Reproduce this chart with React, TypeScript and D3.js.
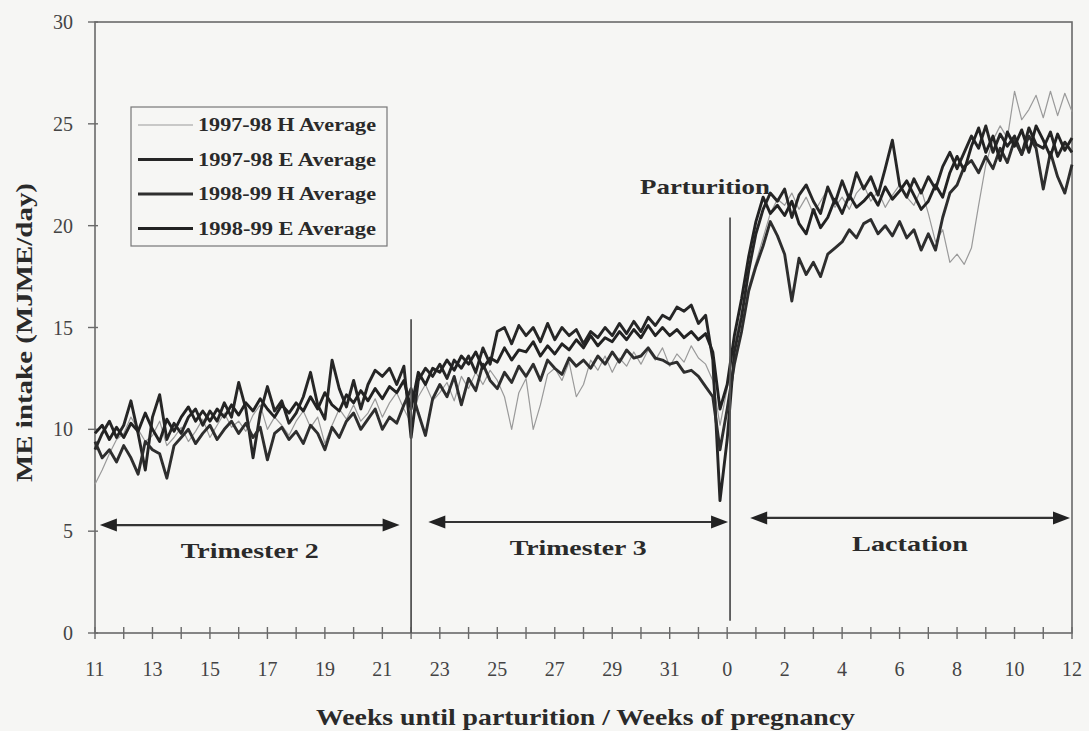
import React from "react";
import * as d3 from "d3";

// x positions: weeks on a continuous index (11..33 = weeks of pregnancy, 33 + n = lactation week n)
const STEP = 0.25;
const START = 11;

const h9798: number[] = [
  7.3, 8.0, 8.8, 9.5, 9.8, 10.6, 10.0, 9.4, 9.7, 10.4, 9.2, 9.6,
  10.1, 9.4, 9.9, 10.5, 9.6, 10.2, 10.8, 10.1, 10.4, 9.9, 10.7, 11.2,
  10.0, 10.6, 10.2, 9.7, 10.4, 10.9, 10.1, 10.6, 9.3, 10.2, 11.0, 10.5,
  11.2, 10.4, 10.8, 11.5, 10.6, 11.3, 11.8, 11.0, 10.3, 11.6, 12.2, 11.4,
  11.8, 12.3, 11.4, 12.6, 12.0, 12.8, 12.2, 12.9, 12.4, 11.6, 10.0, 11.8,
  12.5, 10.0, 11.2, 12.7, 13.0, 12.4, 13.3, 11.6, 12.2, 13.4, 12.9, 13.6,
  12.8, 13.5, 13.1, 13.8, 13.2, 13.9, 13.4, 14.0, 13.1, 13.7, 13.3, 14.1,
  13.5, 13.2, 12.4, 10.2, 12.0, 14.2, 15.8, 17.0, 18.2, 19.4, 20.6, 21.3,
  21.0, 21.6, 20.8, 21.4, 20.6, 21.2, 21.8, 20.9, 21.4, 20.8, 21.6, 22.0,
  21.2, 21.7, 20.9, 21.5, 22.0, 21.4, 21.0, 21.8, 20.6, 19.2, 19.8, 18.2,
  18.6, 18.1, 18.9, 21.0, 23.0, 24.2, 24.9, 24.3, 26.6, 25.2, 25.7, 26.4,
  25.3, 26.6, 25.4, 26.5, 25.6,
];

const e9798: number[] = [
  9.0, 9.8, 10.4, 9.6, 10.2, 11.4, 9.8, 8.0, 10.6, 11.7, 9.5, 10.3,
  9.8, 10.6, 11.0, 10.2, 10.9, 10.4, 11.3, 10.6, 12.3, 11.0, 8.6, 10.8,
  12.1, 10.9, 11.4, 10.3, 10.8, 11.6, 12.8, 11.2, 10.5, 13.4, 12.0, 11.1,
  12.4, 11.0, 12.2, 12.9, 12.6, 13.0, 12.2, 13.1, 9.6, 12.4, 13.0, 12.6,
  13.2, 12.5, 13.4, 13.0, 13.6, 12.8, 14.0, 13.2, 14.8, 15.0, 14.2, 15.1,
  14.6, 15.0, 14.3, 15.2, 14.4, 15.0, 14.6, 14.9, 14.2, 14.8, 14.5, 15.0,
  14.6, 15.2, 14.7, 15.3, 14.8, 15.5, 15.1, 15.6, 15.4, 16.0, 15.8, 16.1,
  15.2, 15.6, 13.4, 6.5, 9.5, 13.8, 15.5, 17.8, 19.6, 20.8, 21.6, 21.2,
  21.8, 20.4, 21.5, 22.0, 21.2, 20.6, 21.9, 21.1, 22.2, 21.3, 22.6, 21.8,
  22.4, 21.5, 22.8, 24.2, 22.0, 21.4, 22.3, 21.6, 22.4, 21.8, 22.9, 23.6,
  22.8, 23.6, 24.4, 23.8, 24.9, 23.6, 24.5, 23.9, 24.4, 23.5, 24.8, 24.0,
  23.8, 24.6, 23.4, 24.1, 23.6,
];

const h9899: number[] = [
  9.4, 8.6, 9.0, 8.4, 9.2, 8.6, 7.8, 9.4, 9.0, 8.8, 7.6, 9.2,
  9.6, 10.0, 9.3, 9.8, 10.2, 9.5, 10.0, 10.4, 9.8, 10.3, 9.6, 10.1,
  8.5, 9.8, 10.1, 9.5, 9.9, 9.3, 10.2, 9.8, 9.0, 10.1, 9.6, 10.4,
  10.8, 10.0, 10.5, 11.0, 10.0, 10.6, 10.3, 11.2, 12.0, 10.8, 9.7, 11.5,
  12.2, 11.6, 12.6, 11.2, 12.5, 11.9, 13.2, 12.4, 12.0, 12.8, 12.3, 13.1,
  12.6, 13.2, 12.4, 13.4, 13.0, 12.7, 13.5, 13.1, 13.4, 13.0, 13.6, 13.2,
  13.8, 13.3, 13.9, 13.5, 13.6, 14.0, 13.5, 13.4, 13.2, 13.3, 12.8, 12.9,
  12.6, 12.1, 11.6, 9.0, 11.0, 13.2, 14.8, 16.8, 18.0, 19.0, 20.2, 19.5,
  18.6, 16.3, 18.4, 17.6, 18.2, 17.5, 18.6, 18.9, 19.2, 19.8, 19.4, 20.1,
  20.3, 19.6, 20.0, 19.5, 20.2, 19.4, 19.8, 18.8, 19.6, 18.8, 20.4, 21.6,
  22.0, 22.9, 23.2, 22.6, 23.4, 22.8, 23.8, 23.1, 24.2, 23.5, 24.4, 23.8,
  21.8, 23.6, 22.4, 21.6, 23.0,
];

const e9899: number[] = [
  9.8, 10.2, 9.5, 10.1, 9.6, 10.3, 9.9, 10.8, 10.0, 9.4, 10.5, 9.9,
  10.6, 11.1, 10.4, 10.9, 10.4, 11.0, 10.6, 11.2, 10.7, 11.3, 10.9, 11.5,
  11.0, 10.6, 11.2, 10.8, 11.3, 10.9, 11.6, 11.0, 11.8, 11.2, 10.9, 11.7,
  11.3, 11.9, 11.4, 12.0, 11.5, 12.1, 11.8, 12.4, 11.0, 12.8, 12.2, 13.0,
  12.8, 13.4, 12.9, 13.6, 13.2, 13.8, 13.0, 13.5, 13.3, 14.0, 13.4, 13.9,
  13.8, 14.3, 13.6, 14.1, 13.7, 14.2, 13.9, 14.4, 14.0, 14.6, 14.1, 14.5,
  14.3, 14.8, 14.4, 14.9, 14.5, 15.1, 14.6, 15.0, 14.6, 14.9, 14.5, 14.8,
  14.4, 14.7, 13.8, 11.0, 12.2, 14.6, 16.4, 18.5, 20.2, 21.4, 20.6, 21.0,
  20.5, 21.2, 20.1, 19.6, 20.8, 19.9, 20.4, 21.3, 20.6, 21.5, 20.9, 21.2,
  21.6, 21.0, 21.9, 21.3, 21.7, 22.2, 21.5, 20.8, 21.2, 22.0, 21.4, 22.6,
  23.4, 22.7, 23.9, 24.8, 23.6, 24.4, 23.2, 24.6, 23.9, 24.7, 23.6, 24.9,
  24.2, 23.4, 24.5, 23.7, 24.3,
];

const seriesNames = [
  "1997-98 H Average",
  "1997-98 E Average",
  "1998-99 H Average",
  "1998-99 E Average",
];
const seriesData = [h9798, e9798, h9899, e9899];
const seriesColors = ["#9a9a9a", "#262626", "#2e2e2e", "#222222"];
const seriesWidths = [1.2, 2.9, 2.9, 2.9];

const xTickValues = [11, 13, 15, 17, 19, 21, 23, 25, 27, 29, 31, 33, 35, 37, 39, 41, 43, 45];
const xTickLabels = ["11", "13", "15", "17", "19", "21", "23", "25", "27", "29", "31", "0", "2", "4", "6", "8", "10", "12"];
const yTickValues = [0, 5, 10, 15, 20, 25, 30];

const periods = [
  { label: "Trimester 2", from: 11.17, to: 21.6, y: 5.3, len: 138 },
  { label: "Trimester 3", from: 22.6, to: 33.03, y: 5.45, len: 137 },
  { label: "Lactation", from: 33.8, to: 44.93, y: 5.65, len: 116 },
];
const dividers = [
  { week: 22, top: 15.4, bottom: 0 },
  { week: 33.1, top: 20.4, bottom: 0.6 },
];

export default function App() {
  const W = 1089;
  const H = 731;
  const left = 95;
  const right = 1072;
  const top = 22;
  const bottom = 633;
  const x = d3.scaleLinear().domain([11, 45]).range([left, right]);
  const y = d3.scaleLinear().domain([0, 30]).range([bottom, top]);
  const line = d3
    .line<number>()
    .x((_, i) => x(START + i * STEP))
    .y((d) => y(d));
  const minorTicks = d3.range(11, 46, 1);
  const font = "'Liberation Serif', 'Times New Roman', serif";
  const axisColor = "#6a6a6a";
  const textColor = "#2a2a2a";

  return (
    <svg
      width={W}
      height={H}
      style={{ position: "absolute", left: 0, top: 0, background: "#f6f6f4" }}
      fontFamily={font}
    >
      <rect x={0} y={0} width={W} height={H} fill="#f6f6f4" />
      {/* frame */}
      <rect x={left} y={top} width={right - left} height={bottom - top} fill="none" stroke={axisColor} strokeWidth={1.6} />
      {/* y ticks */}
      {yTickValues.map((v) => (
        <g key={"y" + v}>
          <line x1={left - 7} x2={left + 3} y1={y(v)} y2={y(v)} stroke={axisColor} strokeWidth={1.4} />
          <text x={73} y={y(v) + 7} textAnchor="end" fontSize={20} fill="#444">
            {v}
          </text>
        </g>
      ))}
      {/* x minor ticks */}
      {minorTicks.map((w) => (
        <line key={"xt" + w} x1={x(w)} x2={x(w)} y1={bottom - 6} y2={bottom + 6} stroke={axisColor} strokeWidth={1.4} />
      ))}
      {xTickValues.map((w, i) => (
        <text key={"xl" + w} x={x(w)} y={bottom + 43} textAnchor="middle" fontSize={20} fill="#444">
          {xTickLabels[i]}
        </text>
      ))}
      {/* series */}
      {seriesData.map((d, i) => (
        <path
          key={seriesNames[i]}
          d={line(d) || ""}
          fill="none"
          stroke={seriesColors[i]}
          strokeWidth={seriesWidths[i]}
          strokeLinejoin="round"
        />
      ))}
      {/* dividers */}
      {dividers.map((dv, i) => (
        <line key={"dv" + i} x1={x(dv.week)} x2={x(dv.week)} y1={y(dv.bottom)} y2={y(dv.top)} stroke="#555" strokeWidth={1.8} />
      ))}
      <text x={640} y={194} fontSize={22} fontWeight="bold" fill={textColor} textLength={130} lengthAdjust="spacingAndGlyphs">
        Parturition
      </text>
      {/* period arrows */}
      {periods.map((p) => {
        const x1 = x(p.from);
        const x2 = x(p.to);
        const yy = y(p.y);
        const cx = (x1 + x2) / 2;
        return (
          <g key={p.label}>
            <line x1={x1 + 10} x2={x2 - 10} y1={yy} y2={yy} stroke="#333" strokeWidth={2.2} />
            <path d={`M${x1},${yy} L${x1 + 17},${yy - 6.5} L${x1 + 17},${yy + 6.5} Z`} fill="#222" />
            <path d={`M${x2},${yy} L${x2 - 17},${yy - 6.5} L${x2 - 17},${yy + 6.5} Z`} fill="#222" />
            <text
              x={cx - p.len / 2}
              y={yy + 33}
              fontSize={22}
              fontWeight="bold"
              fill={textColor}
              textLength={p.len}
              lengthAdjust="spacingAndGlyphs"
            >
              {p.label}
            </text>
          </g>
        );
      })}
      {/* legend */}
      <rect x={131} y={107} width={256} height={139} fill="#f6f6f4" stroke="#777" strokeWidth={1.2} />
      {seriesNames.map((n, i) => {
        const yy = 125 + i * 34.5;
        return (
          <g key={"lg" + n}>
            <line x1={138} x2={193} y1={yy} y2={yy} stroke={seriesColors[i]} strokeWidth={i === 0 ? 1.2 : 2.8} />
            <text
              x={198}
              y={yy + 6}
              fontSize={18}
              fontWeight="bold"
              fill={textColor}
              textLength={178}
              lengthAdjust="spacingAndGlyphs"
            >
              {n}
            </text>
          </g>
        );
      })}
      {/* axis titles */}
      <text
        x={316}
        y={725}
        fontSize={23}
        fontWeight="bold"
        fill={textColor}
        textLength={539}
        lengthAdjust="spacingAndGlyphs"
      >
        Weeks until parturition / Weeks of pregnancy
      </text>
      <g transform={`translate(32, 482) rotate(-90)`}>
        <text x={0} y={0} fontSize={23} fontWeight="bold" fill={textColor} textLength={299} lengthAdjust="spacingAndGlyphs">
          ME intake (MJME/day)
        </text>
      </g>
    </svg>
  );
}
